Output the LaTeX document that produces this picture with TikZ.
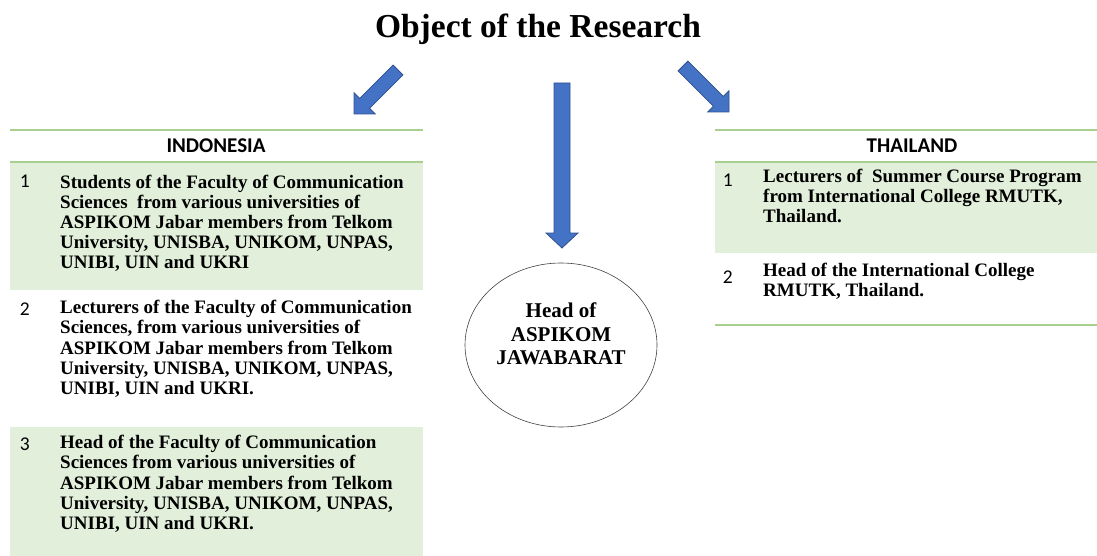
\documentclass[tikz,border=0pt]{standalone}
\usepackage{fontspec}
\setmainfont{Liberation Serif}
\newfontfamily\calib{Carlito}
\usetikzlibrary{calc,shapes.geometric}
\definecolor{gfill}{HTML}{E2EFDA}
\definecolor{gline}{HTML}{A9D08E}
\definecolor{afill}{HTML}{4472C4}
\definecolor{aline}{HTML}{2F528F}
\newcommand{\blkarrow}[5]{%
  \coordinate (ba-B) at ($(#2)!#5!(#1)$);
  \draw[blockarrow] ($(#1)!#3!90:(#2)$) -- ($(ba-B)!#3!90:(#2)$) -- ($(ba-B)!#4!90:(#2)$)
    -- (#2) -- ($(ba-B)!#4!-90:(#2)$) -- ($(ba-B)!#3!-90:(#2)$) -- ($(#1)!#3!-90:(#2)$) -- cycle;}
\tikzset{
  body/.style={anchor=base west, align=left, inner sep=0pt, font=\bfseries\fontsize{19}{20.2}\selectfont},
  num/.style={anchor=base east, inner sep=0pt, font=\calib\fontsize{19.5}{22}\selectfont},
  hdr/.style={anchor=base, inner sep=0pt, font=\calib\bfseries\fontsize{21}{24}\selectfont},
  rule/.style={draw=gline, line width=1.2pt},
  blockarrow/.style={fill=afill, draw=aline, line width=0.8pt, line join=miter},
}
\begin{document}
\begin{tikzpicture}[x=1pt,y=-1pt]
\useasboundingbox (0,0) rectangle (1097,556);
% title
\node[anchor=base, inner sep=0pt, font=\bfseries\fontsize{33.5}{38}\selectfont] (title) at (538,38) {Object of the Research};
% arrows
\coordinate (lt) at (398,70);  \coordinate (lp) at (354,114);
\coordinate (mt) at (562,83);  \coordinate (mp) at (562,248);
\coordinate (rt) at (683,66);  \coordinate (rp) at (729,112);
\blkarrow{lt}{lp}{7pt}{15pt}{15pt}
\blkarrow{mt}{mp}{8pt}{16pt}{15pt}
\blkarrow{rt}{rp}{7pt}{15pt}{15pt}
% left table
\fill[gfill] (10,162) rectangle (423,290);
\fill[gfill] (10,427) rectangle (423,556);
\draw[rule] (10,130) -- (423,130);
\draw[rule] (10,162) -- (423,162);
\node[hdr] (indo) at (216,153) {INDONESIA};
\node[num] (n1) at (30,188) {1};
\node[body] (t1) at (60,268.8) {Students of the Faculty of Communication\\Sciences\ \ from various universities of\\ASPIKOM Jabar members from Telkom\\University, UNISBA, UNIKOM, UNPAS,\\UNIBI, UIN and UKRI};
\node[num] (n2) at (30,315) {2};
\node[body] (t2) at (60,394.5) {Lecturers of the Faculty of Communication\\Sciences, from various universities of\\ASPIKOM Jabar members from Telkom\\University, UNISBA, UNIKOM, UNPAS,\\UNIBI, UIN and UKRI.};
\node[num] (n3) at (30,450) {3};
\node[body] (t3) at (60,529.5) {Head of the Faculty of Communication\\Sciences from various universities of\\ASPIKOM Jabar members from Telkom\\University, UNISBA, UNIKOM, UNPAS,\\UNIBI, UIN and UKRI.};
% right table
\fill[gfill] (715,162) rectangle (1097,253);
\draw[rule] (715,130) -- (1097,130);
\draw[rule] (715,162) -- (1097,162);
\draw[rule] (715,325) -- (1097,325);
\node[hdr] (thai) at (912,153) {THAILAND};
\node[num] (m1) at (733,187) {1};
\node[body] (u1) at (763,222.4) {Lecturers of\ \ Summer Course Program\\from International College RMUTK,\\Thailand.};
\node[num] (m2) at (733,283) {2};
\node[body] (u2) at (763,296.5) {Head of the International College\\RMUTK, Thailand.};
% ellipse
\node[draw=black!75, line width=0.6pt, ellipse, minimum width=192pt, minimum height=164pt] (headel) at (561,345) {};
\node[align=center, inner sep=0pt, font=\bfseries\fontsize{21}{23.3}\selectfont] (headtxt) at (561,334) {Head of\\ASPIKOM\\JAWABARAT};
\end{tikzpicture}
\end{document}
